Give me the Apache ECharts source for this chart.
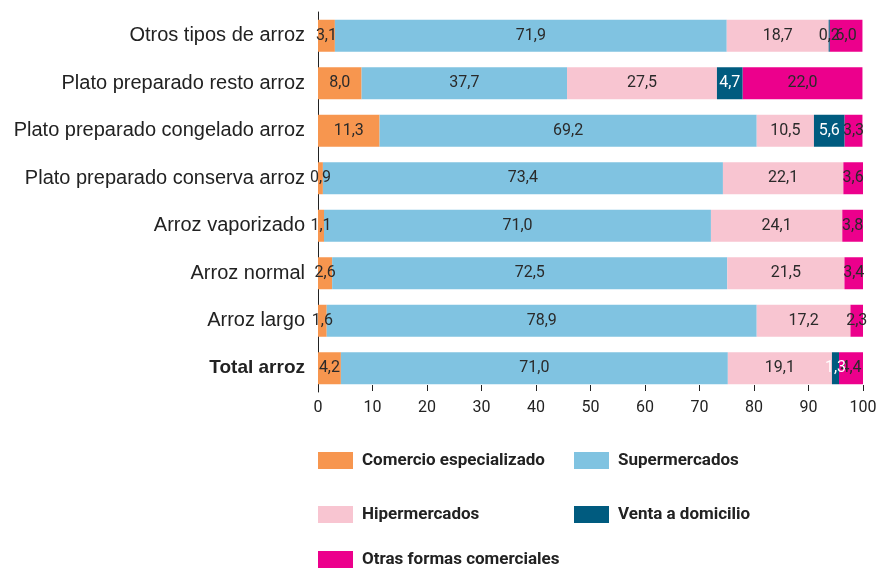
<!DOCTYPE html>
<html>
<head>
<meta charset="utf-8">
<script src="https://cdn.jsdelivr.net/npm/echarts@6/dist/echarts.min.js"></script>
<style>
  html, body { margin: 0; padding: 0; background: #fff; }
  #chart { width: 876px; height: 568px; }
</style>
</head>
<body>
<div id="chart"></div>
<script>
// categories, bottom to top (ECharts category y axis starts at the bottom)
const categories = [
  "Total arroz",
  "Arroz largo",
  "Arroz normal",
  "Arroz vaporizado",
  "Plato preparado conserva arroz",
  "Plato preparado congelado arroz",
  "Plato preparado resto arroz",
  "Otros tipos de arroz",
];

const comercio = [4.2, 1.6, 2.6, 1.1, 0.9, 11.3, 8.0, 3.1];
const supermercados = [71.0, 78.9, 72.5, 71.0, 73.4, 69.2, 37.7, 71.9];
const hipermercados = [19.1, 17.2, 21.5, 24.1, 22.1, 10.5, 27.5, 18.7];
const domicilio = [1.3, 0, 0, 0, 0, 5.6, 4.7, 0.2];
const otras = [4.4, 2.3, 3.4, 3.8, 3.6, 3.3, 22.0, 6.0];

const xTicks = [0, 10, 20, 30, 40, 50, 60, 70, 80, 90, 100];

const numFont = "Roboto, sans-serif";
const catFont = '"Liberation Sans", Arial, sans-serif';

function makeSeries(name, data, color, labelColor, z) {
  return {
    name: name,
    type: "bar",
    stack: "total",
    barWidth: 32,
    z: z || 2,
    itemStyle: { color: color },
    label: {
      show: true,
      position: "inside",
      color: labelColor,
      fontFamily: numFont,
      fontSize: 16,
      formatter: function (p) {
        if (!p.value) return "";
        return p.value.toFixed(1).replace(".", ",");
      },
    },
    labelLayout: { hideOverlap: false },
    // very thin dark segments get a dark label, since it spills onto neighbours
    data: data.map(function (v) {
      if (labelColor === "#ffffff" && v > 0 && v < 1) {
        return { value: v, label: { color: "#2a2a2a" } };
      }
      return v;
    }),
  };
}

const chart = echarts.init(document.getElementById("chart"));

const legendText = {
  fontFamily: numFont,
  fontWeight: "bold",
  fontSize: 17,
  color: "#222",
  padding: [0, 0, 0, 4],
};

function legendAt(left, top, name) {
  return {
    left: left, top: top, padding: 0,
    itemWidth: 35, itemHeight: 17,
    icon: "rect", textStyle: legendText,
    data: [name],
  };
}

chart.setOption({
  animation: false,
  grid: { left: 318, right: 13, top: 12, height: 380, outerBoundsMode: "none" },
  xAxis: {
    type: "value",
    min: 0,
    max: 100,
    interval: 10,
    offset: -7,
    axisLine: { show: false },
    axisTick: { show: true, length: 6, lineStyle: { color: "#222" } },
    splitLine: { show: false },
    axisLabel: {
      color: "#222",
      fontFamily: numFont,
      fontSize: 16,
      margin: 15,
      formatter: function (v) {
        return xTicks.indexOf(v) >= 0 ? String(v) : "";
      },
    },
  },
  yAxis: {
    type: "category",
    data: categories,
    axisLine: { show: true, lineStyle: { color: "#222", width: 1 } },
    axisTick: { show: false },
    axisLabel: {
      color: "#222",
      fontFamily: catFont,
      fontSize: 20,
      margin: 13,
      formatter: function (v) {
        return v === "Total arroz" ? "{b|" + v + "}" : v;
      },
      rich: {
        b: {
          fontWeight: "bold",
          fontFamily: catFont,
          fontSize: 19,
          color: "#222",
        },
      },
    },
  },
  legend: [
    legendAt(318, 452, "Comercio especializado"),
    legendAt(574, 452, "Supermercados"),
    legendAt(318, 506, "Hipermercados"),
    legendAt(574, 506, "Venta a domicilio"),
    legendAt(318, 551, "Otras formas comerciales"),
  ],
  series: [
    makeSeries("Comercio especializado", comercio, "#F7964F", "#2a2a2a"),
    makeSeries("Supermercados", supermercados, "#80C3E1", "#2a2a2a"),
    makeSeries("Hipermercados", hipermercados, "#F8C5D1", "#2a2a2a"),
    makeSeries("Venta a domicilio", domicilio, "#005B7F", "#ffffff", 3),
    makeSeries("Otras formas comerciales", otras, "#EC008C", "#2a2a2a"),
  ],
});
</script>
</body>
</html>
